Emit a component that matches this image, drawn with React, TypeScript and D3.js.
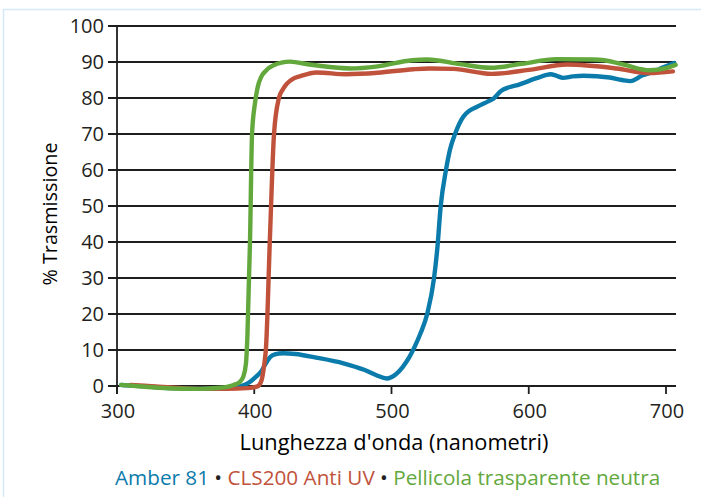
import React from "react";
import * as d3 from "d3";

// wavelength (nm), transmission (%)
const amberNm = [303, 320, 340, 360, 380, 392, 397, 401, 405, 408, 411.5, 415, 421, 430, 445, 465, 480, 489, 496.5, 503, 508, 513, 517, 521, 526, 531, 533.5, 535.8, 539.7, 542.6, 546.3, 552.3, 557, 562, 570, 574.2, 580, 585, 591, 605.8, 616, 620, 625, 632, 640, 659, 668, 674, 683, 690, 698, 706];
const amberT = [0.3, -0.1, -0.6, -0.8, -0.6, 0.2, 1.2, 2.5, 4, 6, 8, 8.8, 9.1, 8.9, 7.9, 6.3, 4.5, 3, 2.1, 3.2, 5.2, 8, 11, 14.5, 20, 30, 38.7, 49.8, 60, 65.6, 70, 74.8, 76.5, 77.5, 79, 79.8, 82, 82.9, 83.5, 85.5, 86.6, 86.2, 85.6, 86, 86.2, 85.7, 85, 84.7, 86.3, 87.2, 88.5, 89.7];

const clsNm = [310, 320, 340, 360, 380, 395, 399.3, 402.9, 405.4, 407.1, 408.6, 411.5, 414.4, 418, 421, 428.5, 433, 445.5, 467, 490, 516, 528, 545, 573, 600, 628, 664, 688, 705];
const clsT = [0.3, 0.1, -0.4, -0.8, -0.8, -0.6, -0.4, 0, 1.7, 5.4, 10.9, 42, 70, 80, 82.5, 85.4, 86, 87.1, 86.6, 87, 88, 88.2, 88.1, 86.7, 87.8, 89.3, 88.2, 86.9, 87.4];

const pellNm = [303, 320, 340, 360, 375, 385, 389.6, 392, 394, 395, 396.9, 398.4, 400.5, 402.5, 405, 408.5, 413.7, 426, 440, 455, 470, 490, 515, 526, 550, 572, 595, 620, 647, 655, 670, 688, 700, 707];
const pellT = [0.3, -0.2, -0.7, -0.8, -0.5, 0.3, 1.2, 2.6, 6.4, 13.7, 40, 70, 78.5, 83, 85.8, 87.6, 89, 90.1, 89.3, 88.6, 88.2, 88.8, 90.5, 90.7, 89.4, 88.4, 89.5, 90.8, 90.7, 90.5, 89.2, 87.7, 88.3, 89.2];

const xTicks = [300, 400, 500, 600, 700];
const yTicks = [0, 10, 20, 30, 40, 50, 60, 70, 80, 90, 100];

const seriesNames = ["Amber 81", "CLS200 Anti UV", "Pellicola trasparente neutra"];
const seriesColors = ["#0b7bab", "#c0523b", "#63a83d"];

const xTitle = "Lunghezza d'onda (nanometri)";
const yTitle = "% Trasmissione";

const W = 701;
const H = 497;
const FONT = "'Open Sans', 'Noto Sans', sans-serif";

export default function App() {
  const x = d3.scaleLinear().domain([300, 700]).range([117, 666]);
  const y = d3.scaleLinear().domain([0, 100]).range([386, 26]);
  const xEnd = 676;

  const line = d3
    .line<[number, number]>()
    .x((d) => x(d[0]))
    .y((d) => y(d[1]))
    .curve(d3.curveMonotoneX);

  const series = [
    { nm: amberNm, t: amberT },
    { nm: clsNm, t: clsT },
    { nm: pellNm, t: pellT },
  ];

  return (
    <div style={{ position: "fixed", left: 0, top: 0, width: W, height: H, background: "#fff" }}>
      <svg width={W} height={H} style={{ display: "block" }}>
        <rect x={3.5} y={9.5} width={720} height={520} fill="#fff" stroke="#d3e9f6" strokeWidth={1.5} />
        {yTicks.map((t) => (
          <line key={"g" + t} x1={108} x2={xEnd} y1={y(t)} y2={y(t)} stroke="#1e1e1e" strokeWidth={1.8} />
        ))}
        <line x1={x(300)} x2={x(300)} y1={y(100)} y2={y(0) + 8} stroke="#1e1e1e" strokeWidth={1.8} />
        {xTicks.map((t) => (
          <line key={"xt" + t} x1={x(t)} x2={x(t)} y1={y(0)} y2={y(0) + 8} stroke="#1e1e1e" strokeWidth={1.8} />
        ))}
        {yTicks.map((t) => (
          <text key={"yl" + t} x={104} y={y(t)} dy="0.36em" textAnchor="end" fontFamily={FONT} fontSize={20} fill="#231f20">
            {t}
          </text>
        ))}
        {xTicks.map((t) => (
          <text key={"xl" + t} x={x(t) + 1} y={418} textAnchor="middle" fontFamily={FONT} fontSize={20} fill="#231f20">
            {t}
          </text>
        ))}
        <text x={394} y={450} textAnchor="middle" fontFamily={FONT} fontSize={21.8} fill="#000">
          {xTitle}
        </text>
        <text transform={`translate(57,214) rotate(-90)`} textAnchor="middle" fontFamily={FONT} fontSize={19.8} fill="#000">
          {yTitle}
        </text>
        {series.map((s, i) => (
          <path
            key={"s" + i}
            d={line(s.nm.map((n, j) => [n, s.t[j]] as [number, number])) || ""}
            fill="none"
            stroke={seriesColors[i]}
            strokeWidth={4.4}
            strokeLinejoin="round"
            strokeLinecap="round"
          />
        ))}
        <text x={115} y={485} fontFamily={FONT} fontSize={20.7} xmlSpace="preserve">
          <tspan fill={seriesColors[0]}>{seriesNames[0]}</tspan>
          <tspan fill="#231f20">{" • "}</tspan>
          <tspan fill={seriesColors[1]}>{seriesNames[1]}</tspan>
          <tspan fill="#231f20">{" • "}</tspan>
          <tspan fill={seriesColors[2]}>{seriesNames[2]}</tspan>
        </text>
      </svg>
    </div>
  );
}
